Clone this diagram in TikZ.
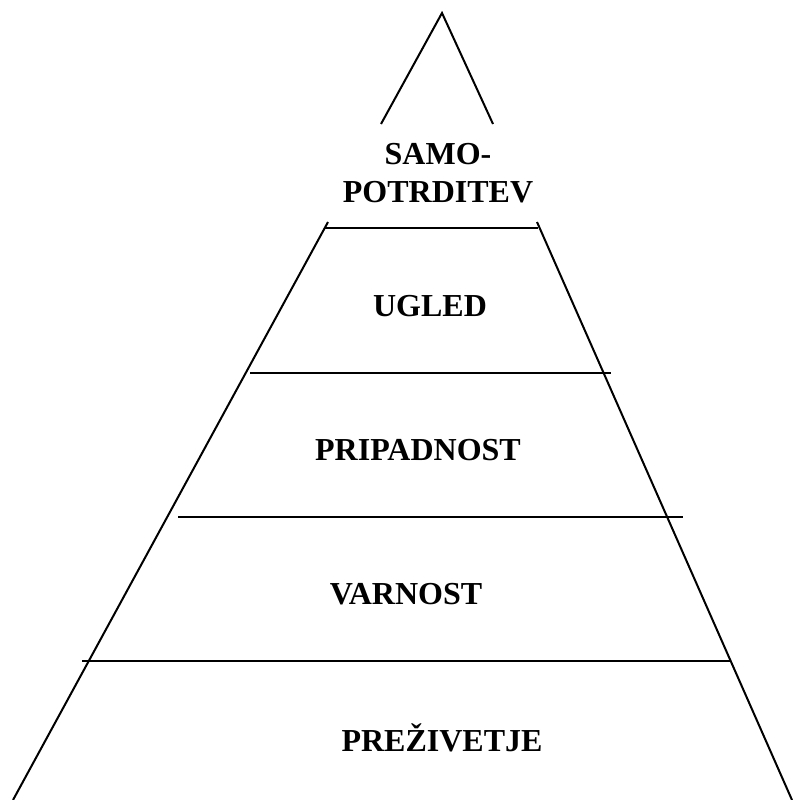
\documentclass[tikz,border=0pt]{standalone}
\usepackage{fontspec}
\setmainfont{Liberation Serif}
\begin{document}
\begin{tikzpicture}[x=1pt,y=-1pt,
  edge/.style={line width=2pt,black},
  lvl/.style={line width=2.4pt,black},
  lab/.style={font=\fontsize{32}{37.5}\selectfont\bfseries,inner sep=0pt,align=center}]
\useasboundingbox (0,0) rectangle (793,800);
% top triangle
\coordinate (apex) at (442,13);
\coordinate (tl) at (381,124);
\coordinate (tr) at (493,124);
\draw[edge,line join=miter] (tl) -- (apex) -- (tr);
% sides
\coordinate (sl1) at (328,222);
\coordinate (sl2) at (13,800);
\coordinate (sr1) at (537,222);
\coordinate (sr2) at (792,800);
\draw[edge] (sl1) -- (sl2);
\draw[edge] (sr1) -- (sr2);
% level lines
\draw[lvl] (325,228) -- (538,228);
\draw[lvl] (250,373) -- (611,373);
\draw[lvl] (178,517) -- (683,517);
\draw[lvl] (82,661) -- (731,661);
% labels
\node[lab] (samo) at (438,173) {SAMO-\\POTRDITEV};
\node[lab] (ugled) at (430,306) {UGLED};
\node[lab] (prip) at (418,450) {PRIPADNOST};
\node[lab] (varn) at (406,594) {VARNOST};
\node[lab] (prez) at (442,738) {PREŽIVETJE};
\end{tikzpicture}
\end{document}
